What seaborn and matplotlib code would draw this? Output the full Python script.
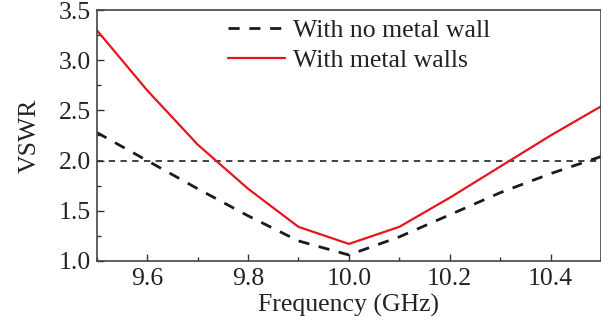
import matplotlib
matplotlib.use("Agg")
import matplotlib.pyplot as plt
import seaborn as sns
import pandas as pd
from matplotlib.ticker import MultipleLocator

freq = [9.5, 9.6, 9.7, 9.8, 9.9, 10.0, 10.1, 10.2, 10.3, 10.4, 10.5]
vswr_no_wall = [2.28, 2.00, 1.72, 1.45, 1.20, 1.06, 1.24, 1.46, 1.68, 1.87, 2.04]
vswr_walls = [3.30, 2.70, 2.16, 1.72, 1.34, 1.17, 1.34, 1.63, 1.94, 2.25, 2.54]
labels = ["With no metal wall", "With metal walls"]

sns.set_theme(style="ticks")
plt.rcParams['font.family'] = ['Liberation Serif', 'DejaVu Serif']
plt.rcParams['mathtext.fontset'] = 'stix'

df = pd.DataFrame({
    "freq": freq * 2,
    "vswr": vswr_no_wall + vswr_walls,
    "case": [labels[0]] * len(freq) + [labels[1]] * len(freq),
})

fig = plt.figure(figsize=(6.01, 3.23), dpi=100)
ax = fig.add_axes([0.161, 0.192, 0.839, 0.777])

sns.lineplot(data=df[df.case == labels[0]], x="freq", y="vswr", ax=ax,
             color="#1a1a1a", linewidth=2.0, dashes=False, label=labels[0])
ax.lines[-1].set_linestyle((0, (4, 3.5)))
sns.lineplot(data=df[df.case == labels[1]], x="freq", y="vswr", ax=ax,
             color="#e8141c", linewidth=1.6, label=labels[1])
ax.axhline(2.0, color="#333333", linewidth=1.3, linestyle=(0, (3.5, 3)), zorder=1)

ax.set_xlim(9.5, 10.5)
ax.set_ylim(1.0, 3.5)
ax.xaxis.set_major_locator(MultipleLocator(0.2))
ax.xaxis.set_minor_locator(MultipleLocator(0.1))
ax.yaxis.set_major_locator(MultipleLocator(0.5))
ax.yaxis.set_minor_locator(MultipleLocator(0.25))
ax.set_xticks([9.6, 9.8, 10.0, 10.2, 10.4])
ax.tick_params(which="both", direction="in", color="#333333", labelsize=18.5,
               labelcolor="#222222")
ax.tick_params(axis="x", pad=5)
ax.tick_params(axis="y", pad=4)
ax.tick_params(which="major", length=5, width=1)
ax.tick_params(which="minor", length=3, width=1)
for s in ax.spines.values():
    s.set_color("#444444")
    s.set_linewidth(1.2)

ax.set_xlabel("Frequency (GHz)", fontsize=18.5, color="#222222", labelpad=3)
ax.set_ylabel("VSWR", fontsize=18.5, color="#222222", labelpad=13)

leg = ax.legend(loc="upper center", bbox_to_anchor=(0.52, 1.045), frameon=False,
                fontsize=18.5, handlelength=2.25, handletextpad=0.3,
                labelspacing=0.25, borderpad=0.3)
for t in leg.get_texts():
    t.set_color("#222222")

fig.savefig("out.png", dpi=100)
